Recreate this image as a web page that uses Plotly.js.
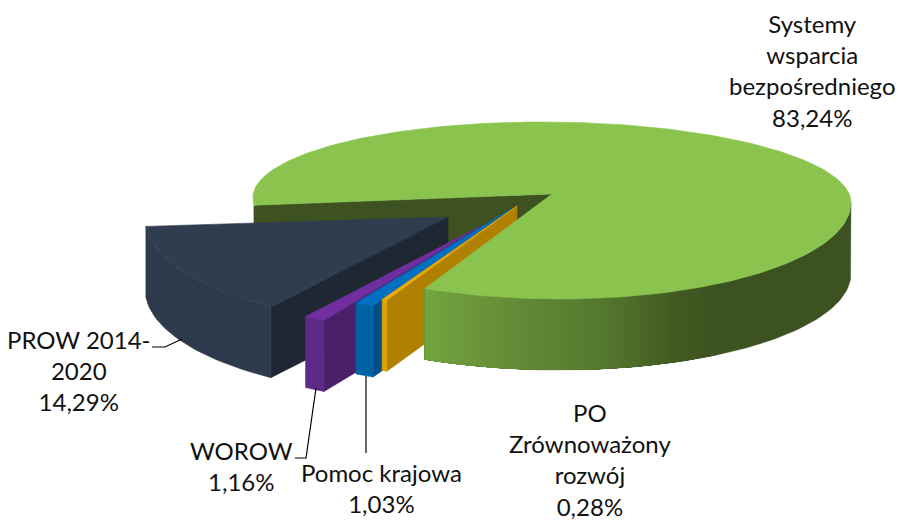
<!DOCTYPE html>
<html>
<head>
<meta charset="utf-8">
<script src="https://cdn.plot.ly/plotly-3.0.1.min.js"></script>
<style>html,body{margin:0;padding:0;background:#fff}#chart{width:900px;height:520px}</style>
</head>
<body>
<div id="chart"></div>
<script>
// Data
const categories = ["Systemy<br>wsparcia<br>bezpośredniego", "PO<br>Zrównoważony<br>rozwój", "Pomoc krajowa", "WOROW", "PROW 2014-<br>2020"];
const values = [83.24, 0.28, 1.03, 1.16, 14.29];
const topColors = ["#8ac44f", "#eeaa00", "#0070c0", "#6f2f9f", "#303d4f"];
const wallColors = ["#3c5220", "#dfa200", "#0062a3", "#5f2987", "#2d3a4b"];
const cutColors = ["#3d5220", "#b08000", "#004e85", "#4a1f68", "#1f2832"];

// Projection of the tilted, exploded pie onto the page (in px-scaled axes)
const startAngle = 265.5;
const depth = 71;
const tilt = 2.5;
const apexes = [[552,194],[517,206],[511,209],[481,226],[448,217]];
const rimCenters = [[552,200],[514,208],[505,214.5],[473,232],[431,218]];
const rimRx = [299,299,299,299,286];
const rimRyFront = [99,102,102,102,107];
const rimRyBack = [78,78,78,78,78];
const labelX = [812,590,381,241,79];
const labelY = [70.5,459,488,466,370];
const leaders = [
  {x:[152,165,182], y:[347,347,339]},
  {x:[295,306,316], y:[458,458,388]},
  {x:[366,366], y:[376,453]}
];
const gradX = [425,470,520,600,680,720];
const gradC = [[114,165,62],[108,152,58],[99,138,54],[85,122,47],[66,89,33],[60,82,32]];

const rad = d => d*Math.PI/180;
function rim(i, th, dz){
  const s = Math.sin(rad(th)), c = Math.cos(rad(th));
  const ry = c < 0 ? rimRyFront[i] : rimRyBack[i];
  return [rimCenters[i][0] + rimRx[i]*s, rimCenters[i][1] - ry*c + (i===0?tilt*s:0) + (dz||0)];
}
function arc(i, a, b, dz){
  const n = Math.max(2, Math.ceil(Math.abs(b-a)/1.5)), p = [];
  for(let k=0;k<=n;k++) p.push(rim(i, a+(b-a)*k/n, dz));
  return p;
}
const traces = [];
function poly(pts, color, w){
  traces.push({type:'scatter', mode:'lines', x:pts.map(p=>p[0]).concat(pts[0][0]), y:pts.map(p=>p[1]).concat(pts[0][1]),
    fill:'toself', fillcolor:color, line:{color:color,width:w===undefined?0.6:w}, hoverinfo:'skip', showlegend:false});
}
function gradColor(x){
  if(x<=gradX[0]) return gradC[0];
  for(let k=1;k<gradX.length;k++){
    if(x<=gradX[k]){
      const t=(x-gradX[k-1])/(gradX[k]-gradX[k-1]);
      return gradC[k].map((v,j)=>gradC[k-1][j]+(v-gradC[k-1][j])*t);
    }
  }
  return gradC[gradC.length-1];
}

// slice bounds, clockwise from the start angle
const bounds = [];
let acc = startAngle;
values.forEach(v => { const a=acc, b=acc+v*3.6; bounds.push([a,b]); acc=b; });
const greenStart = bounds[0][0], greenEnd = bounds[0][1];

// back cut face of the large slice
const gs = rim(0, greenStart), ap = apexes[0];
poly([ap, gs, [gs[0],gs[1]+depth], [ap[0],ap[1]+depth]], cutColors[0]);

// exploded slices, back to front
[4,3,2,1].forEach(i => {
  const a = bounds[i][0], b = bounds[i][1];
  const r = rim(i, a), ax = apexes[i];
  poly([ax, r, [r[0],r[1]+depth], [ax[0],ax[1]+depth]], cutColors[i]);
  poly(arc(i,a,b).concat(arc(i,b,a,depth)), wallColors[i]);
  poly([ax].concat(arc(i,a,b)), topColors[i]);
});

// outer wall of the large slice: nested bands, darkest first, ending at the right-hand extreme
const bandA = greenEnd, bandB = 450, bands = 110;
poly(arc(0,bandA,bandB).concat(arc(0,bandB,bandA,depth)), 'rgb(60,82,32)', 0.4);
for(let k=bands-1;k>=0;k--){
  const b = bandA + (bandB-bandA)*(k+1)/bands;
  const edge = rim(0,b);
  if(edge[0] > gradX[gradX.length-1]) continue;
  const p = arc(0,bandA,b).concat(arc(0,b,bandA,depth));
  const c = gradColor(edge[0]).map(Math.round);
  poly(p, 'rgb('+c.join(',')+')', 0);
}
// top of the large slice
poly([ap].concat(arc(0,greenStart,greenEnd)), topColors[0]);

// leader lines
leaders.forEach(l => traces.push({type:'scatter', mode:'lines', x:l.x, y:l.y,
  line:{color:'#000',width:1.2}, hoverinfo:'skip', showlegend:false}));

const annotations = categories.map((c,i)=>({
  x:labelX[i], y:labelY[i], xref:'x', yref:'y', showarrow:false, xanchor:'center', yanchor:'middle',
  align:'center', text:c+'<br>'+values[i].toFixed(2).replace('.',',')+'%',
  font:{family:'Lato, Carlito, sans-serif', size:24, color:'#111'}
}));

Plotly.newPlot('chart', traces, {
  width:900, height:520, margin:{l:0,r:0,t:0,b:0},
  paper_bgcolor:'#fff', plot_bgcolor:'#fff', showlegend:false,
  xaxis:{range:[0,900], visible:false, fixedrange:true},
  yaxis:{range:[520,0], visible:false, fixedrange:true},
  annotations
}, {displayModeBar:false, staticPlot:true});
</script>
</body>
</html>
